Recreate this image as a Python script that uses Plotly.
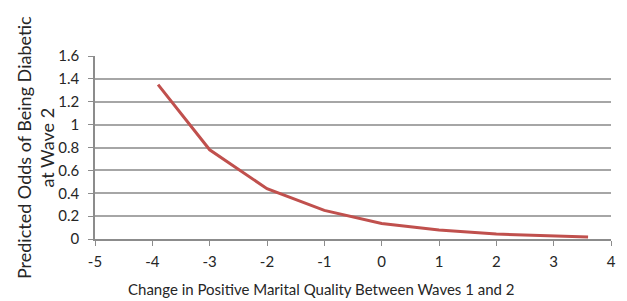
import plotly.graph_objects as go

change = [-3.9, -3, -2, -1, 0, 1, 2, 3, 3.6]
odds = [1.35, 0.78, 0.44, 0.25, 0.135, 0.078, 0.043, 0.026, 0.018]
x_ticks = [-5, -4, -3, -2, -1, 0, 1, 2, 3, 4]
x_labels = ["-5", "-4", "-3", "-2", "-1", "0", "1", "2", "3", "4"]
y_ticks = [0, 0.2, 0.4, 0.6, 0.8, 1, 1.2, 1.4, 1.6]
y_labels = ["0", "0.2", "0.4", "0.6", "0.8", "1", "1.2", "1.4", "1.6"]

font = "Lato, Open Sans, sans-serif"

fig = go.Figure()
fig.add_trace(go.Scatter(x=change, y=odds, mode="lines",
                         line=dict(color="#c0504d", width=3), showlegend=False))

# page body has an 8px margin: figure spans 8..627 x 8..301
fig.update_layout(
    width=619, height=293,
    margin=dict(l=87, r=11, t=48, b=62),
    paper_bgcolor="white", plot_bgcolor="white",
    font=dict(family=font, size=15, color="#262626"),
    xaxis=dict(range=[-5, 4], tickvals=x_ticks, ticktext=x_labels, ticks="outside", ticklen=5,
               tickcolor="#8c8c8c", showline=True, linecolor="#8c8c8c", linewidth=1.5,
               showgrid=False, zeroline=False, tickfont=dict(size=15), ticklabelstandoff=3),
    yaxis=dict(range=[0, 1.6], tickvals=y_ticks, ticktext=y_labels, ticks="outside", ticklen=5,
               tickcolor="#8c8c8c", showline=True, linecolor="#8c8c8c", linewidth=1.5,
               showgrid=True, gridcolor="#a6a6a6", gridwidth=1.5, zeroline=False,
               tickfont=dict(size=15), ticklabelstandoff=6),
    annotations=[
        dict(text="Predicted Odds of Being Diabetic<br>at Wave 2", xref="paper", yref="paper",
             x=(35 - 95) / 521, y=0.5, xanchor="center", yanchor="middle", textangle=-90,
             showarrow=False, font=dict(size=18)),
        dict(text="Change in Positive Marital Quality Between Waves 1 and 2", xref="paper", yref="paper",
             x=(324 - 95) / 521, y=-(289 - 239) / 183, xanchor="center", yanchor="middle",
             showarrow=False, font=dict(size=15)),
    ],
)

fig.write_html("out.html")
